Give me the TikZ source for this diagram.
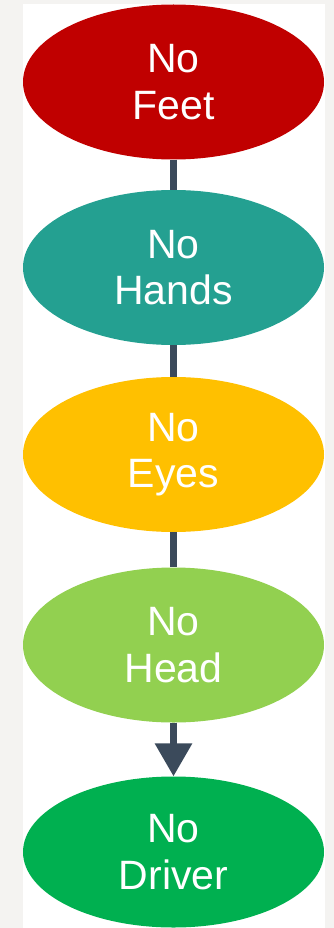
\documentclass[tikz,border=0pt]{standalone}
\usepackage{fontspec}
\setmainfont{Liberation Sans}
\usetikzlibrary{arrows.meta, shapes, positioning}
\usepackage{xcolor}
\definecolor{feetred}{HTML}{C00000}
\definecolor{handsteal}{HTML}{24A091}
\definecolor{eyesgold}{HTML}{FFC000}
\definecolor{headgreen}{HTML}{92D050}
\definecolor{drivergreen}{HTML}{00B050}
\definecolor{linkgray}{HTML}{3B4A5B}
\definecolor{pagegray}{HTML}{F4F3F1}

\begin{document}
\begin{tikzpicture}[x=1pt, y=-1pt,
  bubble/.style={ellipse, minimum width=301pt, minimum height=155pt, inner sep=0pt,
    text=white, align=center, font=\fontsize{41}{46.5}\selectfont},
  link/.style={draw=linkgray, line width=6.5pt}]
  % page
  \fill[pagegray] (0,0) rectangle (334,928);
  \fill[white] (23,4) rectangle (325,928);
  % chain of ellipses
  \node[bubble, fill=feetred] (feet) at (173.5,82) {No\\Feet};
  \node[bubble, fill=handsteal] (hands) at (173.5,267.5) {No\\Hands};
  \node[bubble, fill=eyesgold] (eyes) at (173.5,454.5) {No\\Eyes};
  \node[bubble, fill=headgreen] (head) at (173.5,645) {No\\Head};
  \node[bubble, fill=drivergreen, minimum height=151pt] (driver) at (173.5,852) {No\\Driver};
  % links
  \draw[link] (feet) -- (hands);
  \draw[link] (hands) -- (eyes);
  \draw[link] (eyes) -- (head);
  \draw[link, -{Triangle[width=36pt, length=33pt]}] (head) -- (driver);
\end{tikzpicture}
\end{document}
